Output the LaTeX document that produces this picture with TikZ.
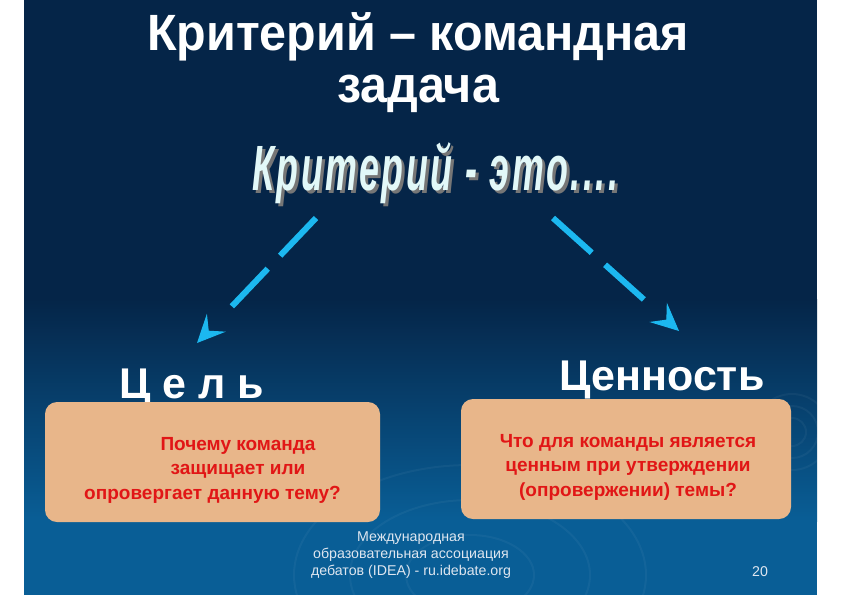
\documentclass[tikz,border=0pt]{standalone}
\usepackage{fontspec}
\setmainfont{Liberation Sans}
\newfontfamily\titlefont[FakeStretch=0.95]{Liberation Sans}
\newfontfamily\artfont[FakeStretch=0.56,LetterSpace=4]{Liberation Sans}
\usepackage{tikz}
\usetikzlibrary{arrows.meta,positioning}

\definecolor{slidetop}{RGB}{5,37,72}
\definecolor{slidebot}{RGB}{9,94,150}
\definecolor{arrowblue}{RGB}{28,184,240}
\definecolor{boxtan}{RGB}{232,182,138}
\definecolor{textred}{RGB}{225,22,22}
\definecolor{arttext}{RGB}{226,248,248}
\definecolor{artshadow}{RGB}{118,118,118}
\definecolor{footgray}{RGB}{222,230,240}

% gray drop shadow behind the word-art line
\newcommand\artshade[1]{\makebox[0pt][l]{\hspace{3pt}\raisebox{-3pt}{\textcolor{artshadow}{#1}}}#1}

\begin{document}
\begin{tikzpicture}[x=1pt,y=-1pt,
    >={Stealth[length=28pt,width=26pt,inset=11pt,line width=1pt]},
    slidetext/.style={text=white,inner sep=0pt,anchor=base},
    headline/.style={slidetext,font=\titlefont\bfseries\fontsize{51}{52}\selectfont},
    branch/.style={slidetext,font=\bfseries\fontsize{43}{46}\selectfont},
    card/.style={fill=boxtan,rounded corners=12pt,minimum width=#1,minimum height=120pt,inner sep=0pt},
    ask/.style={text=textred,align=center,inner sep=0pt,font=\bfseries\fontsize{19}{24.5}\selectfont},
    cue/.style={->,line width=6pt,draw=arrowblue,dash pattern=on 52pt off 18pt on 52pt off 200pt},
    foot/.style={text=footgray,inner sep=0pt,font=\fontsize{14.2}{17}\selectfont}]

  % page and slide background
  \useasboundingbox (0,0) rectangle (842,595);
  \fill[white] (0,0) rectangle (842,595);
  \fill[slidetop] (24,0) rectangle (817,300);
  \shade[top color=slidetop,bottom color=slidebot] (24,299) rectangle (817,521);
  \fill[slidebot] (24,520) rectangle (817,595);
  \begin{scope}[draw=white,opacity=0.045,line width=2pt]
    \clip (24,0) rectangle (817,595);
    \foreach \r in {14,26,38}
      \draw (792,432) circle (\r);
    \foreach \r in {40,75,110}
      \draw (470,575) ellipse ({1.6*\r} and \r);
  \end{scope}

  % title
  \node[headline] (title) at (418,50) {Критерий – командная};
  \node[headline] (title2) at (418,102) {задача};

  % word art
  \node[slidetext,text=arttext,font=\artfont\bfseries\itshape\fontsize{64}{66}\selectfont]
    (crit) at (435,190) {\artshade{Критерий - это....}};

  % the two branches
  \coordinate (goal from) at (316,218);
  \coordinate (goal to) at (197,343);
  \coordinate (value from) at (553,218);
  \coordinate (value to) at (679,331);
  \draw[cue] (goal from) -- (goal to);
  \draw[cue] (value from) -- (value to);

  \node[branch] (goal) at (192,398) {Ц е л ь};
  \node[branch] (value) at (662,390) {Ценность};

  \node[card=335pt] (goalbox) at (212.5,462) {};
  \node[card=330pt] (valuebox) at (626,459) {};

  \node[ask] (goalq) at (212.5,470)
    {\hspace*{51pt}Почему команда\\\hspace*{51pt}защищает или\\опровергает данную тему?};
  \node[ask] (valueq) at (628,467)
    {Что для команды является\\ценным при утверждении\\(опровержении) темы?};

  % footer
  \node[foot,align=center] (idea) at (411,555)
    {Международная\\образовательная ассоциация\\дебатов (IDEA) - ru.idebate.org};
  \node[foot] (page) at (760,572) {20};
\end{tikzpicture}
\end{document}
